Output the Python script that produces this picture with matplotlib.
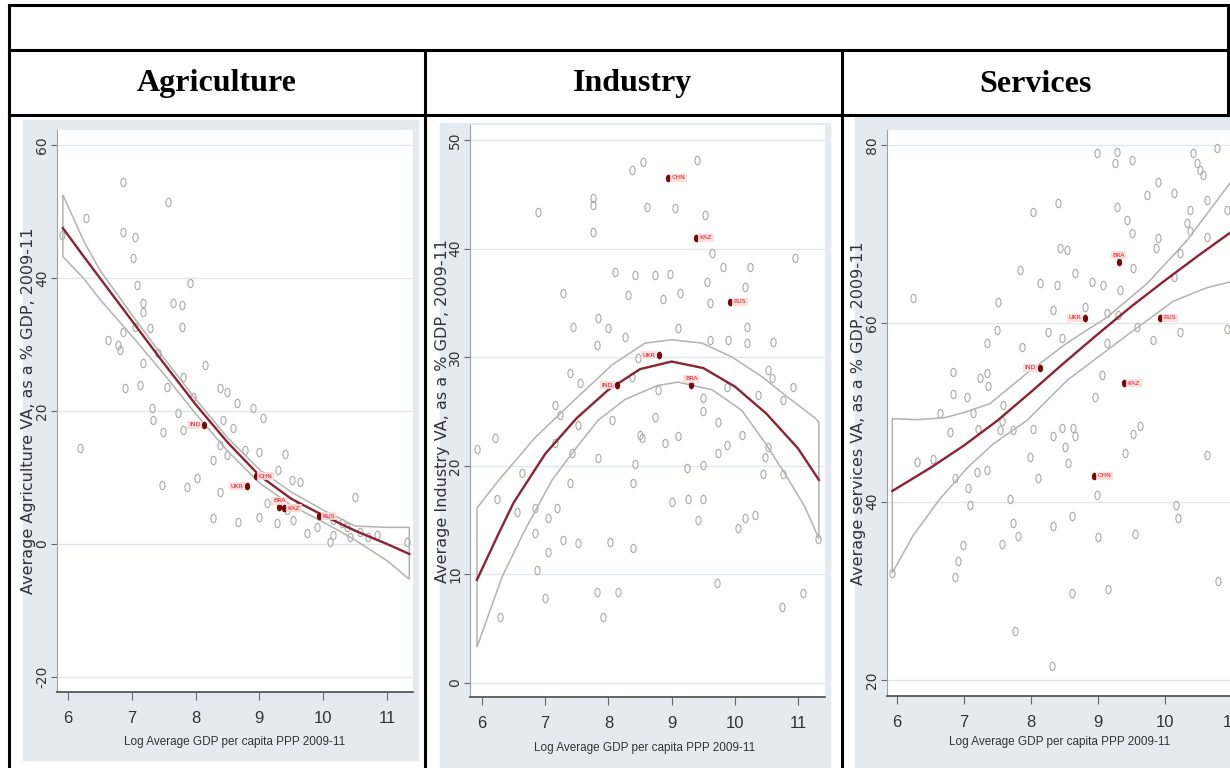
"""
Sectoral value added vs. log GDP per capita (2009-11): three quadratic-fit
scatter panels laid out in a bordered table with one header row.
"""
import matplotlib
matplotlib.use("Agg")
import matplotlib.pyplot as plt
from matplotlib.lines import Line2D
from matplotlib.patches import Rectangle
from matplotlib.path import Path
from matplotlib.transforms import Affine2D

plt.rcParams["axes.unicode_minus"] = False

W, H = 1230, 768

# ---------------- labels ---------------------------------------------------
SECTORS = ["Agriculture", "Industry", "Services"]
YLABELS = [
    "Average Agriculture VA, as a % GDP, 2009-11",
    "Average Industry VA, as a % GDP, 2009-11",
    "Average services VA, as a % GDP, 2009-11",
]
XLABEL = "Log Average GDP per capita PPP 2009-11"
XTICKS = [6, 7, 8, 9, 10, 11]
YTICKS = [[-20, 0, 20, 40, 60], [0, 10, 20, 30, 40, 50], [20, 40, 60, 80]]

# ---------------- highlighted countries -----------------------------------
CODES = ["IND", "UKR", "CHN", "BRA", "KAZ", "RUS"]
CODE_GDP = [8.13, 8.80, 8.94, 9.31, 9.39, 9.93]
CODE_AGR = [17.9, 8.7, 10.2, 5.5, 5.4, 4.2]
CODE_IND = [27.4, 30.2, 46.5, 27.4, 41.0, 35.1]
CODE_SRV = [55.0, 60.6, 42.9, 66.9, 53.3, 60.6]
CODE_POS = ["left", "left", "right", "above", "right", "right"]

# ---------------- agriculture ---------------------------------------------
AGR_X = [6.86, 7.57, 6.29, 5.90, 6.86, 7.05, 7.02, 7.08, 7.91, 7.18, 7.18, 7.65,
         7.79, 7.79, 7.29, 7.05, 6.86, 6.63, 6.78, 6.82, 7.41, 7.18, 8.15, 7.80,
         7.55, 6.89, 7.13, 8.38, 8.49, 7.96, 8.65, 8.90, 9.06, 7.32, 7.33, 7.73,
         8.43, 8.59, 7.49, 7.80, 6.19, 8.38, 8.27, 8.49, 8.77, 9.00, 9.40, 9.29,
         9.51, 9.64, 7.47, 7.86, 8.02, 8.38, 10.50, 8.27, 8.67, 9.00, 9.27, 9.53,
         9.74, 9.90, 10.15, 10.37, 10.58, 10.84, 11.31, 9.12, 9.43, 9.59, 10.15,
         10.30, 10.42, 10.70, 10.10]
AGR_Y = [54.4, 51.4, 49.0, 46.5, 46.9, 46.2, 43.0, 38.9, 39.2, 36.2, 34.9, 36.2,
         35.9, 32.6, 32.5, 32.6, 31.9, 30.7, 29.9, 29.2, 28.7, 27.2, 26.9, 25.1,
         23.6, 23.5, 23.9, 23.5, 22.9, 22.1, 21.2, 20.5, 19.0, 20.5, 18.6, 19.7,
         18.6, 17.4, 16.8, 17.1, 14.4, 14.9, 12.6, 13.4, 14.1, 13.8, 13.6, 11.1,
         9.6, 9.3, 8.9, 8.6, 9.9, 7.8, 7.1, 3.9, 3.3, 4.1, 3.2, 3.6,
         1.7, 2.6, 1.4, 2.6, 1.8, 1.4, 0.3, 6.2, 5.1, 5.6, 3.6,
         3.2, 1.0, 1.0, 0.3]
AGR_FIT_X = [5.92, 6.25, 6.5, 7.0, 7.5, 8.0, 8.5, 9.0, 9.5, 10.0, 10.5, 11.0, 11.35]
AGR_FIT = [47.5, 43.2, 40.0, 33.6, 27.2, 21.0, 15.3, 10.3, 6.8, 4.3, 2.0, 0.0, -1.5]
AGR_CI_X = AGR_FIT_X
AGR_UPPER = [52.5, 45.5, 41.2, 34.5, 28.0, 21.8, 16.0, 11.2, 7.8, 5.1, 2.7, 2.5, 2.5]
AGR_LOWER = [43.2, 39.9, 36.8, 31.3, 25.6, 19.6, 14.0, 9.2, 5.8, 3.3, 0.6, -2.5, -5.3]

# ---------------- industry ------------------------------------------------
IND_X = [8.55, 8.37, 9.40, 7.76, 7.76, 6.89, 8.61, 9.05, 9.53, 7.76, 9.64, 10.95,
         9.81, 10.24, 8.10, 8.42, 8.74, 8.97, 9.56, 7.28, 8.31, 8.86, 9.13, 9.61,
         10.16, 7.84, 8.00, 7.44, 8.26, 9.10, 10.19, 7.82, 9.61, 9.90, 10.60, 10.19,
         8.47, 7.39, 7.55, 8.37, 10.53, 10.59, 10.92, 9.88, 8.78, 9.50, 7.16, 7.23,
         8.06, 10.37, 10.77, 9.50, 9.73, 8.74, 7.52, 8.50, 9.10, 10.11, 5.92, 6.21,
         7.16, 7.42, 7.84, 8.42, 8.53, 8.90, 9.73, 9.88, 10.48, 10.53, 9.24, 9.50,
         10.44, 10.76, 6.24, 6.63, 6.84, 7.19, 7.04, 6.55, 7.39, 8.39, 9.00, 9.26,
         9.50, 9.42, 10.05, 10.16, 10.32, 11.32, 6.84, 7.04, 7.28, 7.52, 8.03, 8.39,
         6.87, 7.00, 6.28, 7.82, 8.15, 7.91, 9.72, 10.75, 11.08]
IND_Y = [48.0, 47.2, 48.2, 44.7, 44.0, 43.4, 43.8, 43.7, 43.1, 41.5, 39.6, 39.1,
         38.3, 38.3, 37.8, 37.6, 37.6, 37.7, 36.9, 35.9, 35.7, 35.4, 35.9, 35.0,
         36.5, 33.6, 32.7, 32.8, 31.9, 32.7, 32.8, 31.1, 31.6, 31.6, 31.4, 31.3,
         29.9, 28.5, 27.6, 28.2, 28.8, 28.1, 27.3, 27.3, 27.0, 26.2, 25.6, 24.7,
         24.2, 26.5, 26.1, 25.0, 24.0, 24.5, 23.8, 22.8, 22.7, 22.8, 21.5, 22.6,
         22.1, 21.2, 20.7, 20.2, 22.6, 22.1, 21.2, 21.9, 20.8, 21.7, 19.8, 20.1,
         19.2, 19.2, 16.9, 19.3, 16.1, 16.1, 15.2, 15.7, 18.4, 18.4, 16.7, 16.9,
         16.9, 15.0, 14.3, 15.2, 15.5, 13.3, 13.8, 12.1, 13.2, 12.9, 13.0, 12.4,
         10.4, 7.8, 6.1, 8.4, 8.4, 6.1, 9.2, 7.0, 8.3]
IND_FIT_X = [5.92, 6.25, 6.5, 7.0, 7.5, 8.0, 8.5, 9.0, 9.5, 10.0, 10.5, 11.0, 11.33]
IND_FIT = [9.5, 13.6, 16.6, 21.1, 24.4, 27.0, 28.9, 29.6, 29.0, 27.3, 24.8, 21.6, 18.7]
IND_UPPER_X = [5.92, 6.24, 6.84, 7.47, 8.06, 8.58, 9.0, 9.48, 9.96, 10.43, 10.84, 11.27, 11.33]
IND_UPPER = [16.1, 18.5, 22.6, 26.1, 29.3, 31.3, 31.6, 31.3, 30.0, 28.2, 26.3, 24.4, 24.0]
IND_LOWER_X = [5.92, 6.32, 6.68, 7.11, 7.47, 7.84, 8.26, 8.78, 9.1, 9.64, 10.11,
               10.48, 10.79, 11.11, 11.33]
IND_LOWER = [3.3, 9.8, 14.1, 18.7, 21.5, 24.2, 26.1, 27.4, 27.7, 27.0, 25.1,
             22.1, 19.3, 16.2, 13.3]

# ---------------- services ------------------------------------------------
SRV_X = [8.99, 9.29, 9.51, 9.26, 10.42, 10.78, 10.48, 10.53, 10.57, 9.89, 9.74, 10.13,
         9.29, 8.41, 8.03, 10.38, 10.63, 10.93, 9.44, 9.51, 10.33, 10.38, 10.63, 9.90,
         9.86, 8.44, 8.54, 10.23, 9.53, 7.84, 8.66, 10.13, 8.14, 8.39, 8.91, 9.08,
         9.33, 6.24, 7.51, 8.33, 8.81, 9.14, 9.30, 9.59, 10.23, 9.83, 10.93, 7.49,
         7.35, 8.26, 8.46, 7.87, 9.14, 6.84, 7.35, 7.24, 9.06, 6.84, 7.05, 7.36,
         8.96, 6.64, 7.14, 7.58, 7.57, 7.73, 6.79, 8.03, 8.46, 8.66, 9.53, 7.21,
         7.54, 8.33, 8.63, 9.63, 6.30, 6.54, 7.19, 7.35, 6.87, 7.99, 8.11, 8.51,
         8.56, 9.41, 10.63, 7.06, 7.09, 7.69, 8.99, 8.62, 10.16, 10.20, 7.73, 7.81,
         8.33, 9.00, 9.56, 7.57, 6.99, 6.91, 6.87, 5.93, 10.80, 8.62, 9.15, 7.76,
         8.32]
SRV_Y = [79.1, 79.2, 78.3, 78.0, 79.1, 79.7, 78.0, 77.2, 76.6, 75.8, 74.4, 74.6,
         73.0, 73.5, 72.5, 72.7, 73.8, 72.7, 71.6, 70.1, 71.3, 70.4, 69.7, 69.6,
         68.5, 68.5, 68.2, 67.9, 66.2, 66.0, 65.6, 65.2, 64.5, 64.3, 64.6, 64.3,
         63.7, 62.8, 62.4, 61.5, 61.8, 61.2, 60.9, 59.6, 59.0, 58.1, 59.4, 59.2,
         57.8, 59.0, 58.4, 57.3, 57.8, 54.5, 54.4, 53.9, 54.2, 52.1, 51.7, 53.0,
         51.7, 50.0, 50.0, 50.8, 49.1, 48.0, 47.8, 48.2, 48.3, 47.4, 47.6, 48.2,
         48.0, 47.4, 48.3, 48.5, 44.4, 44.8, 43.3, 43.5, 42.6, 45.0, 42.7, 46.1,
         44.3, 45.5, 45.2, 41.5, 39.6, 40.3, 40.7, 38.4, 39.6, 38.2, 37.6, 36.2,
         37.3, 36.0, 36.4, 35.3, 35.1, 33.4, 31.5, 32.0, 31.1, 29.8, 30.2, 25.5,
         21.6]
SRV_FIT_X = [5.93, 6.5, 7.0, 7.5, 8.0, 8.5, 9.0, 9.5, 10.0, 10.5, 11.0, 11.45]
SRV_FIT = [41.2, 43.8, 46.3, 49.1, 52.3, 55.6, 58.8, 61.9, 64.8, 67.6, 70.3, 72.8]
SRV_UPPER_X = [5.93, 6.3, 6.7, 7.0, 7.39, 7.94, 8.54, 9.14, 9.74, 10.33, 10.95, 11.45]
SRV_UPPER = [49.3, 49.2, 49.4, 50.0, 51.0, 54.4, 57.8, 60.7, 64.5, 69.3, 75.5, 80.5]
SRV_LOWER_X = [5.93, 6.24, 6.64, 7.05, 7.44, 7.94, 8.54, 9.14, 9.53, 10.13, 10.63, 10.95, 11.45]
SRV_LOWER = [32.0, 36.2, 40.3, 43.8, 46.5, 49.1, 53.6, 57.0, 59.2, 62.5, 64.0, 64.6, 65.3]

# ---------------- layout (pixels) -----------------------------------------
PANELS = [
    dict(bg=(23, 120, 418, 760), plot=(57, 130, 413, 692),
         xlim=(5.828, 11.408), ylim=(-22.26, 62.26), ylab_x=29, xlab=(235, 742)),
    dict(bg=(440, 123, 830, 767), plot=(470, 125, 825, 697),
         xlim=(5.81, 11.427), ylim=(-1.29, 51.38), ylab_x=443, xlab=(645, 748)),
    dict(bg=(855, 117, 1240, 768), plot=(887, 130, 1262, 696),
         xlim=(5.851, 11.45), ylim=(18.21, 81.68), ylab_x=859, xlab=(1060, 742)),
]

BG = "#e5eaf1"
GRID = "#e1e6ec"
HOLLOW = "#a9a9a9"
FIT = "#8c2232"
CI = "#b2b2b2"
DOT = "#7a0a0a"
NARROW = ["Liberation Sans Narrow", "Liberation Sans", "DejaVu Sans"]

# tall, narrow hollow circle
OVAL = Path.unit_circle().transformed(Affine2D().scale(0.62, 1.0))


def fx(x):
    return x / W


def fy(y):
    return 1 - y / H


def box(x0, y0, x1, y1):
    return [fx(x0), fy(y1), (x1 - x0) / W, (y1 - y0) / H]


def draw_panel(fig, spec, xs, ys, fit_x, fit, up_x, up, lo_x, lo, codes_y,
               yticks, ylabel):
    x0, y0, x1, y1 = spec["bg"]
    fig.patches.append(Rectangle((fx(x0), fy(y1)), (x1 - x0) / W, (y1 - y0) / H,
                                 transform=fig.transFigure, color=BG,
                                 zorder=-10))
    ax = fig.add_axes(box(*spec["plot"]))
    ax.set_facecolor("white")
    ax.set_xlim(*spec["xlim"])
    ax.set_ylim(*spec["ylim"])

    for v in yticks:
        ax.axhline(v, color=GRID, lw=1.0, zorder=0)

    ax.plot(xs, ys, ls="none", marker=OVAL, ms=6, mfc="none", mec=HOLLOW,
            mew=0.8, zorder=2)

    # confidence band outline, closed at both ends
    poly_x = list(up_x) + list(lo_x)[::-1]
    poly_y = list(up) + list(lo)[::-1]
    ax.fill(poly_x, poly_y, facecolor="none", edgecolor=CI, lw=1.1, zorder=3)
    ax.plot(fit_x, fit, color=FIT, lw=1.7, zorder=4)

    ax.plot(CODE_GDP, codes_y, ls="none", marker=OVAL, ms=4.5, mfc=DOT,
            mec=DOT, zorder=5)
    for code, gx, gy, pos in zip(CODES, CODE_GDP, codes_y, CODE_POS):
        if pos == "left":
            off, ha, va = (-2.5, 0), "right", "center"
        elif pos == "right":
            off, ha, va = (2.5, 0), "left", "center"
        else:
            off, ha, va = (0, 3), "center", "bottom"
        ax.annotate(code, (gx, gy), xytext=off, textcoords="offset points",
                    ha=ha, va=va, fontsize=4.5, color="#e01b1b", zorder=6,
                    bbox=dict(boxstyle="square,pad=0.25", fc="#ffd9d9",
                              ec="none", alpha=0.85))

    for side in ("top", "right"):
        ax.spines[side].set_visible(False)
    ax.spines["left"].set_color("#a0a0a0")
    ax.spines["left"].set_linewidth(0.8)
    ax.spines["bottom"].set_color("#4a4a4a")
    ax.spines["bottom"].set_linewidth(1.2)

    ax.set_xticks(XTICKS)
    ax.set_yticks(yticks)
    ax.tick_params(axis="x", direction="out", length=5.5, width=0.8,
                   color="#666666", pad=8, labelsize=12, labelcolor="#333333")
    ax.tick_params(axis="y", direction="out", length=4.5, width=0.8,
                   color="#666666", pad=1, labelsize=10, labelcolor="#333333",
                   labelrotation=90)
    for lab in ax.get_xticklabels():
        lab.set_family(NARROW)
    for lab in ax.get_yticklabels():
        lab.set_va("center")

    ax.set_xlabel(XLABEL, family=NARROW, fontsize=8.5, color="#333333",
                  va="center", ha="center")
    ax.xaxis.set_label_coords(fx(spec["xlab"][0]), fy(spec["xlab"][1]),
                              transform=fig.transFigure)
    ax.set_ylabel(ylabel, fontsize=11.5, color="#333333", va="center",
                  ha="center")
    ax.yaxis.set_label_coords(fx(spec["ylab_x"]),
                              fy((spec["plot"][1] + spec["plot"][3]) / 2),
                              transform=fig.transFigure)
    return ax


def draw_table(fig):
    lw = 2.2
    segs = [
        ((9, 5), (1228, 5)),
        ((9, 50), (1228, 50)),
        ((9, 115), (1230, 115)),
        ((9, 5), (9, 768)),
        ((425, 50), (425, 768)),
        ((842, 50), (842, 768)),
        ((1228, 5), (1228, 115)),
    ]
    for (xa, ya), (xb, yb) in segs:
        fig.add_artist(Line2D([fx(xa), fx(xb)], [fy(ya), fy(yb)],
                              transform=fig.transFigure, color="black",
                              lw=lw, solid_capstyle="projecting", zorder=20))
    for name, cx in zip(SECTORS, [217, 633, 1035]):
        fig.text(fx(cx), fy(84), name, ha="center", va="center",
                 family=["Liberation Serif", "DejaVu Serif"],
                 fontweight="bold", fontsize=23, color="black")


def main():
    fig = plt.figure(figsize=(W / 100, H / 100), dpi=100)
    fig.patch.set_facecolor("white")

    draw_panel(fig, PANELS[0], AGR_X, AGR_Y, AGR_FIT_X, AGR_FIT,
               AGR_CI_X, AGR_UPPER, AGR_CI_X, AGR_LOWER, CODE_AGR,
               YTICKS[0], YLABELS[0])
    draw_panel(fig, PANELS[1], IND_X, IND_Y, IND_FIT_X, IND_FIT,
               IND_UPPER_X, IND_UPPER, IND_LOWER_X, IND_LOWER, CODE_IND,
               YTICKS[1], YLABELS[1])
    draw_panel(fig, PANELS[2], SRV_X, SRV_Y, SRV_FIT_X, SRV_FIT,
               SRV_UPPER_X, SRV_UPPER, SRV_LOWER_X, SRV_LOWER, CODE_SRV,
               YTICKS[2], YLABELS[2])
    draw_table(fig)

    fig.savefig("out.png", dpi=100)
    plt.close(fig)


if __name__ == "__main__":
    main()
